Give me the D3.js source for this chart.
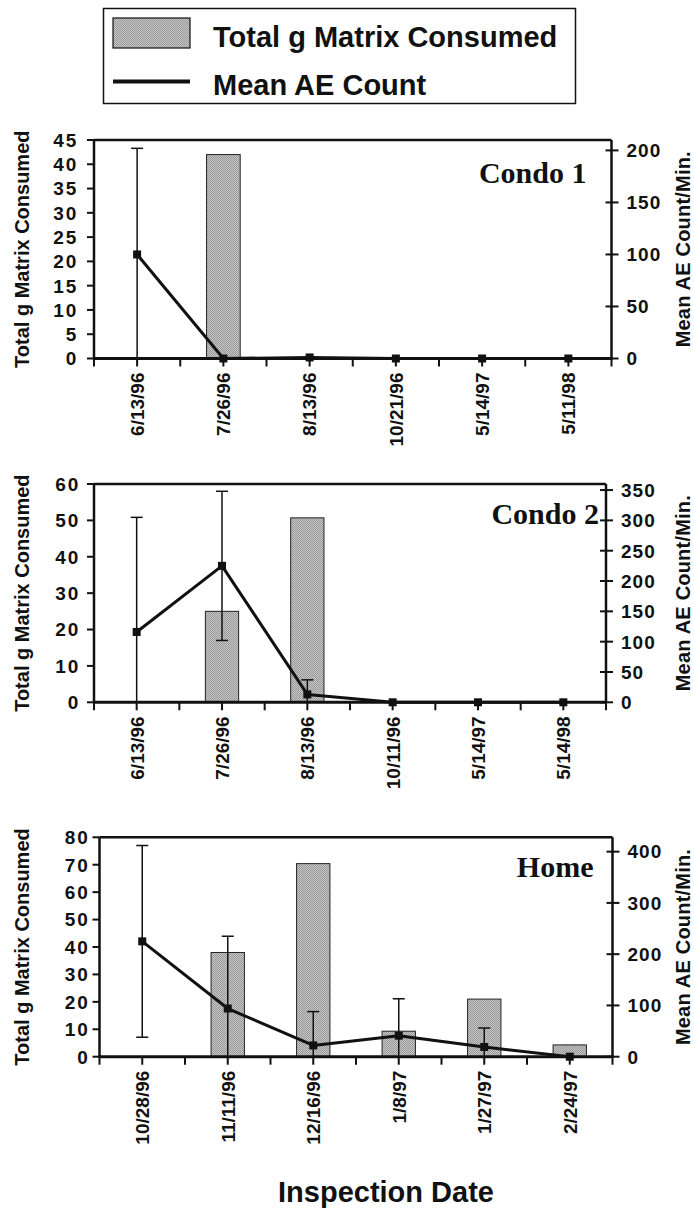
<!DOCTYPE html>
<html>
<head>
<meta charset="utf-8">
<script src="https://cdn.jsdelivr.net/npm/d3@7"></script>
<style>
  body { margin: 0; background: #fff; }
  text { font-family: "Liberation Sans", Arial, sans-serif; font-weight: bold; fill: #111; }
  .serif { font-family: "Liberation Serif", "Times New Roman", serif; }
</style>
</head>
<body>
<div id="chart"></div>
<script>
// ---- data ----
const condo1Dates = ["6/13/96", "7/26/96", "8/13/96", "10/21/96", "5/14/97", "5/11/98"];
const condo1Matrix = [0, 42, 0, 0, 0, 0];
const condo1AE = [100, 0, 1, 0, 0, 0];
const condo1Err = [102, 0, 0, 0, 0, 0];
const condo1LeftTicks = [0, 5, 10, 15, 20, 25, 30, 35, 40, 45];
const condo1RightTicks = [0, 50, 100, 150, 200];

const condo2Dates = ["6/13/96", "7/26/96", "8/13/96", "10/11/96", "5/14/97", "5/14/98"];
const condo2Matrix = [0, 25, 50.7, 0, 0, 0];
const condo2AE = [116, 225, 13, 0, 0, 0];
const condo2Err = [189, 123, 24, 0, 0, 0];
const condo2LeftTicks = [0, 10, 20, 30, 40, 50, 60];
const condo2RightTicks = [0, 50, 100, 150, 200, 250, 300, 350];

const homeDates = ["10/28/96", "11/11/96", "12/16/96", "1/8/97", "1/27/97", "2/24/97"];
const homeMatrix = [0, 38, 70.4, 9.3, 21, 4.3];
const homeAE = [225, 94, 22, 41, 19, 0];
const homeErr = [187, 141, 66, 72, 37, 0];
const homeLeftTicks = [0, 10, 20, 30, 40, 50, 60, 70, 80];
const homeRightTicks = [0, 100, 200, 300, 400];

const legendLabels = ["Total g Matrix Consumed", "Mean AE Count"];
const leftTitle = "Total g Matrix Consumed";
const rightTitle = "Mean AE Count/Min.";
const xTitle = "Inspection Date";

const W = 694, H = 1212;

const svg = d3.select("#chart").append("svg")
    .attr("width", W)
    .attr("height", H);

// stippled grey fill like the scanned bars
const pat = svg.append("defs").append("pattern")
    .attr("id", "stipple")
    .attr("width", 2).attr("height", 2)
    .attr("patternUnits", "userSpaceOnUse");
pat.append("rect").attr("width", 2).attr("height", 2).attr("fill", "#c4c4c4");
pat.append("rect").attr("width", 1).attr("height", 1).attr("fill", "#9a9a9a");
pat.append("rect").attr("x", 1).attr("y", 1).attr("width", 1).attr("height", 1).attr("fill", "#9a9a9a");

// Legend
const lg = svg.append("g");
lg.append("rect")
    .attr("x", 103.5).attr("y", 8.5)
    .attr("width", 472).attr("height", 95)
    .attr("fill", "none").attr("stroke", "#111").attr("stroke-width", 1.5);
lg.append("rect")
    .attr("x", 113).attr("y", 18)
    .attr("width", 77).attr("height", 30)
    .attr("fill", "url(#stipple)").attr("stroke", "#111").attr("stroke-width", 1.2);
lg.append("line")
    .attr("x1", 113).attr("x2", 190)
    .attr("y1", 81.5).attr("y2", 81.5)
    .attr("stroke", "#111").attr("stroke-width", 4);
lg.selectAll("text.leg")
    .data(legendLabels)
    .enter()
    .append("text")
    .attr("class", "leg")
    .attr("x", 213)
    .attr("y", (d, i) => i == 0 ? 47 : 95)
    .attr("font-size", 29)
    .text(d => d);

const drawPanel = (p) => {
    const g = svg.append("g");
    const x = d3.scaleBand()
        .domain(p.dates)
        .range([p.x0, p.x1]);
    const bw = x.bandwidth();
    const cx = d => x(d) + bw / 2;
    const yL = d3.scaleLinear().domain([0, p.leftMax]).range([p.y1, p.y0]);
    const yR = d3.scaleLinear().domain([0, p.rightMax]).range([p.y1, p.y0]);

    const rows = p.dates.map((d, i) => ({
        date: d, matrix: p.matrix[i], ae: p.ae[i], err: p.err[i]
    }));

    // bars
    const barW = bw * 0.39;
    g.append("g")
        .selectAll("rect")
        .data(rows.filter(r => r.matrix > 0))
        .enter()
        .append("rect")
        .attr("x", d => cx(d.date) - barW / 2)
        .attr("y", d => yL(d.matrix))
        .attr("width", barW)
        .attr("height", d => yL(0) - yL(d.matrix))
        .attr("fill", "url(#stipple)")
        .attr("stroke", "#222")
        .attr("stroke-width", 1);

    // frame
    g.append("line")
        .attr("x1", p.x0).attr("x2", p.x1)
        .attr("y1", p.y0).attr("y2", p.y0)
        .attr("stroke", "#111").attr("stroke-width", 2.5);
    g.append("line")
        .attr("x1", p.x0).attr("x2", p.x0)
        .attr("y1", p.y0).attr("y2", p.y1)
        .attr("stroke", "#111").attr("stroke-width", 2.5);
    g.append("line")
        .attr("x1", p.x1).attr("x2", p.x1)
        .attr("y1", p.y0).attr("y2", p.y1)
        .attr("stroke", "#111").attr("stroke-width", 2.5);
    g.append("line")
        .attr("x1", p.x0 - 1).attr("x2", p.x1 + 1)
        .attr("y1", p.y1).attr("y2", p.y1)
        .attr("stroke", "#111").attr("stroke-width", 3);

    // left axis
    g.append("g")
        .selectAll("line")
        .data(p.leftTicks)
        .enter()
        .append("line")
        .attr("x1", p.x0 - 7).attr("x2", p.x0)
        .attr("y1", d => yL(d)).attr("y2", d => yL(d))
        .attr("stroke", "#111").attr("stroke-width", 2);
    g.append("g")
        .selectAll("text")
        .data(p.leftTicks)
        .enter()
        .append("text")
        .attr("x", p.x0 - p.leftGap)
        .attr("y", d => yL(d))
        .attr("dy", "0.36em")
        .attr("text-anchor", "end")
        .attr("font-size", 19)
        .attr("letter-spacing", 1.8)
        .text(d => d);

    // right axis
    g.append("g")
        .selectAll("line")
        .data(p.rightTicks)
        .enter()
        .append("line")
        .attr("x1", p.x1 - 6).attr("x2", p.x1 + 7)
        .attr("y1", d => yR(d)).attr("y2", d => yR(d))
        .attr("stroke", "#111").attr("stroke-width", 2);
    g.append("g")
        .selectAll("text")
        .data(p.rightTicks)
        .enter()
        .append("text")
        .attr("x", p.x1 + 15)
        .attr("y", d => yR(d))
        .attr("dy", "0.36em")
        .attr("font-size", 19)
        .attr("letter-spacing", 1)
        .text(d => d);

    // bottom ticks, at centres and between categories
    let tickX = [];
    p.dates.forEach(d => {
        tickX.push(x(d));
        tickX.push(cx(d));
    });
    tickX.push(p.x1);
    g.append("g")
        .selectAll("line")
        .data(tickX)
        .enter()
        .append("line")
        .attr("x1", d => d).attr("x2", d => d)
        .attr("y1", p.y1).attr("y2", p.y1 + 8)
        .attr("stroke", "#111").attr("stroke-width", 2);

    // date labels
    g.append("g")
        .selectAll("text")
        .data(p.dates)
        .enter()
        .append("text")
        .attr("transform", d => "translate(" + cx(d) + "," + (p.y1 + 14) + ") rotate(-90)")
        .attr("dy", "0.36em")
        .attr("text-anchor", "end")
        .attr("font-size", 19)
        .text(d => d);

    // error bars
    const cap = 6;
    const eb = g.append("g")
        .selectAll("g")
        .data(rows.filter(r => r.err > 0))
        .enter()
        .append("g");
    eb.append("line")
        .attr("x1", d => cx(d.date)).attr("x2", d => cx(d.date))
        .attr("y1", d => yR(d.ae + d.err))
        .attr("y2", d => yR(Math.max(0, d.ae - d.err)))
        .attr("stroke", "#111").attr("stroke-width", 1.5);
    eb.append("line")
        .attr("x1", d => cx(d.date) - cap).attr("x2", d => cx(d.date) + cap)
        .attr("y1", d => yR(d.ae + d.err)).attr("y2", d => yR(d.ae + d.err))
        .attr("stroke", "#111").attr("stroke-width", 1.5);
    eb.filter(d => d.ae - d.err > 0)
        .append("line")
        .attr("x1", d => cx(d.date) - cap).attr("x2", d => cx(d.date) + cap)
        .attr("y1", d => yR(d.ae - d.err)).attr("y2", d => yR(d.ae - d.err))
        .attr("stroke", "#111").attr("stroke-width", 1.5);

    // AE line
    const line = d3.line()
        .x(d => cx(d.date))
        .y(d => yR(d.ae));
    g.append("path")
        .attr("d", line(rows))
        .attr("fill", "none")
        .attr("stroke", "#111")
        .attr("stroke-width", 3)
        .attr("stroke-linejoin", "round");
    g.append("g")
        .selectAll("rect")
        .data(rows)
        .enter()
        .append("rect")
        .attr("x", d => cx(d.date) - 4)
        .attr("y", d => yR(d.ae) - 4)
        .attr("width", 8)
        .attr("height", 8)
        .attr("fill", "#111");

    // panel name
    g.append("text")
        .attr("class", "serif")
        .attr("x", p.x1 - p.nameDx)
        .attr("y", p.y0 + p.nameDy)
        .attr("text-anchor", "end")
        .attr("font-size", 30)
        .text(p.name);

    // axis titles
    const midY = (p.y0 + p.y1) / 2;
    g.append("text")
        .attr("transform", "translate(22," + midY + ") rotate(-90)")
        .attr("dy", "0.36em")
        .attr("text-anchor", "middle")
        .attr("font-size", 20)
        .text(leftTitle);
    g.append("text")
        .attr("transform", "translate(683," + midY + ") rotate(-90)")
        .attr("dy", "0.36em")
        .attr("text-anchor", "middle")
        .attr("font-size", 20)
        .attr("letter-spacing", 0.2)
        .text(rightTitle);
}

drawPanel({
    name: "Condo 1", dates: condo1Dates, matrix: condo1Matrix, ae: condo1AE, err: condo1Err,
    leftMax: 45, rightMax: 210, leftTicks: condo1LeftTicks, rightTicks: condo1RightTicks,
    x0: 94, x1: 611.5, y0: 140, y1: 358.5, leftGap: 16, nameDx: 25, nameDy: 43
});
drawPanel({
    name: "Condo 2", dates: condo2Dates, matrix: condo2Matrix, ae: condo2AE, err: condo2Err,
    leftMax: 60, rightMax: 360, leftTicks: condo2LeftTicks, rightTicks: condo2RightTicks,
    x0: 94, x1: 606, y0: 484, y1: 702.3, leftGap: 14, nameDx: 7, nameDy: 40
});
drawPanel({
    name: "Home", dates: homeDates, matrix: homeMatrix, ae: homeAE, err: homeErr,
    leftMax: 80, rightMax: 428, leftTicks: homeLeftTicks, rightTicks: homeRightTicks,
    x0: 99.5, x1: 612.5, y0: 837.3, y1: 1056.7, leftGap: 10, nameDx: 19, nameDy: 40
});

svg.append("text")
    .attr("x", 386)
    .attr("y", 1202)
    .attr("text-anchor", "middle")
    .attr("font-size", 29)
    .text(xTitle);
</script>
</body>
</html>
